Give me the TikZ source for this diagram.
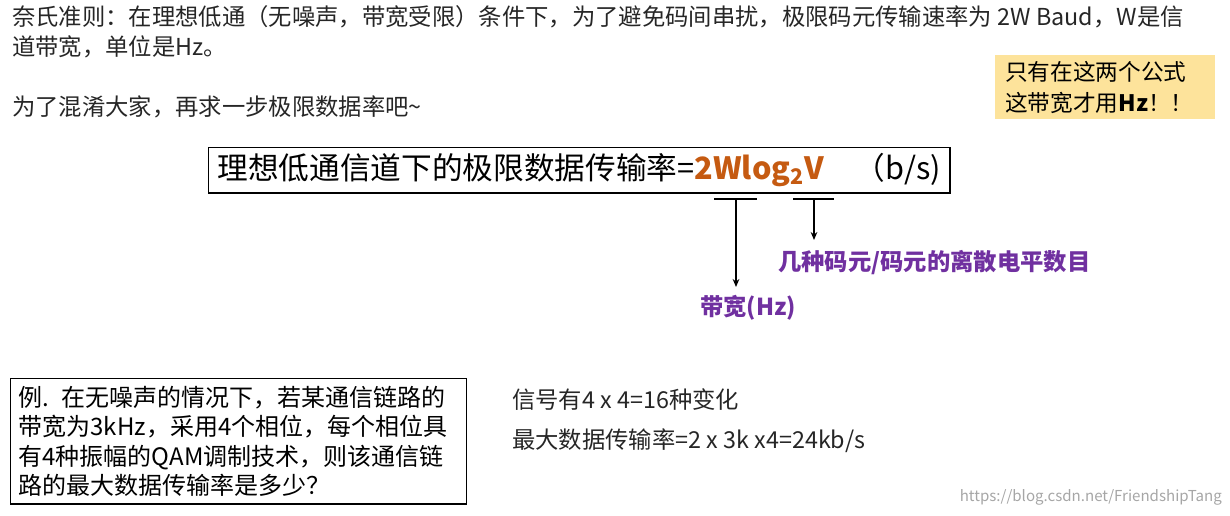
\documentclass[tikz,border=0pt]{standalone}
\usepackage{fontspec}
\setmainfont{Noto Sans CJK SC}
\usetikzlibrary{arrows.meta}
\definecolor{org}{HTML}{C55A11}
\definecolor{pur}{HTML}{7030A0}
\definecolor{yel}{HTML}{FDE39B}
\tikzset{
  txt/.style={anchor=west,inner sep=0pt,font=\fontsize{17.5}{20}\selectfont,text=black!85},
  lbl/.style={inner sep=0pt,font=\fontsize{17.5}{20}\selectfont\bfseries,text=pur},
  arr/.style={-{Stealth[length=6pt,width=5pt]},line width=1pt},
  brk/.style={line width=1pt}
}
\begin{document}
\begin{tikzpicture}[x=0.75pt,y=-0.75pt]
\useasboundingbox (0,0) rectangle (1230,516);
\node[txt] (t1) at (12,17) {奈氏准则：在理想低通（无噪声，带宽受限）条件下，为了避免码间串扰，极限码元传输速率为 2W Baud，W是信};
\node[txt] (t2) at (12,47) {道带宽，单位是Hz。};
\node[txt] (t3) at (12,107) {为了混淆大家，再求一步极限数据率吧\textasciitilde};
\node[fill=yel,minimum width=165pt,minimum height=48pt,anchor=north west,align=left,text width=150pt,font=\fontsize{17}{23}\selectfont] (y) at (995,55) {只有在这两个公式\\这带宽才用\textbf{Hz}！！};
\node[draw,line width=1pt,anchor=north west,minimum width=556pt,minimum height=34pt,font=\fontsize{23}{25}\selectfont,inner xsep=6pt] (f) at (208,147)
 {理想低通信道下的极限数据传输率=\textcolor{org}{\textbf{2Wlog\textsubscript{2}V}}\quad （b/s)};
\coordinate (a1) at (714,199); \coordinate (a2) at (757,199); \coordinate (am) at (736,199);
\coordinate (b1) at (793,199); \coordinate (b2) at (834,199); \coordinate (bm) at (814,199);
\draw[brk] (a1) -- (a2); \draw[brk] (b1) -- (b2);
\node[lbl] (lb) at (748,308) {带宽(Hz)};
\node[lbl,anchor=west] (lv) at (778,263) {几种码元/码元的离散电平数目};
\coordinate (ae) at (736,287); \coordinate (be) at (814,240);
\draw[arr] (am) -- (ae); \draw[arr] (bm) -- (be);
\node[draw,line width=1pt,anchor=north west,minimum width=340pt,minimum height=94pt,align=left,font=\fontsize{18}{22}\selectfont,text width=330pt,inner xsep=6pt] (ex) at (10,378)
 {例. 在无噪声的情况下，若某通信链路的\\带宽为3kHz，采用4个相位，每个相位具\\有4种振幅的QAM调制技术，则该通信链\\路的最大数据传输率是多少？};
\node[txt] (r1) at (512,400) {信号有4 x 4=16种变化};
\node[txt] (r2) at (512,441) {最大数据传输率=2 x 3k x4=24kb/s};
\node[anchor=east,inner sep=0pt,text=black!35,font=\fontsize{11.3}{13}\selectfont] (w) at (1222,497) {https://blog.csdn.net/FriendshipTang};
\end{tikzpicture}
\end{document}
